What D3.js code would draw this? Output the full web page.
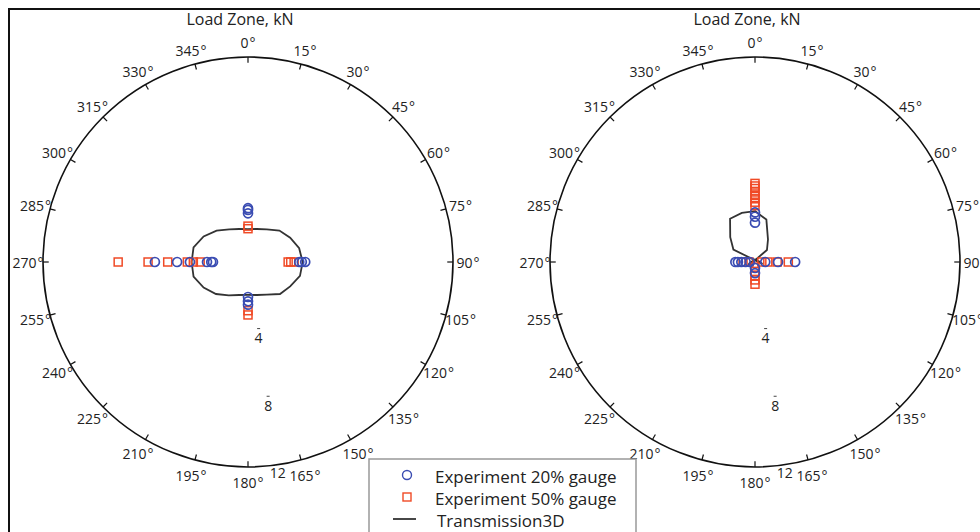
<!DOCTYPE html>
<html>
<head>
<meta charset="utf-8">
<script src="https://cdn.jsdelivr.net/npm/d3@7"></script>
<style>
  body { margin: 0; background: #fff; }
  svg { display: block; font-family: "Open Sans", "Liberation Sans", sans-serif; }
</style>
</head>
<body>
<div id="chart"></div>
<script>
// angular ticks (degrees, clockwise from top) and radial ticks (kN)
const angleTicks = [0, 15, 30, 45, 60, 75, 90, 105, 120, 135, 150, 165, 180, 195, 210, 225, 240, 255, 270, 285, 300, 315, 330, 345];
const radialTicks = [4, 8, 12];

// Transmission3D curve, radius in kN sampled at angleTicks
const leftCurve = [1.93, 2.0, 2.2, 2.6, 2.85, 3.1, 3.2, 3.15, 2.85, 2.65, 2.2, 2.0, 1.93, 2.0, 2.25, 2.65, 3.0, 3.3, 3.3, 3.3, 3.0, 2.6, 2.2, 2.0];
const rightCurve = [2.98, 2.57, 1.52, 0.99, -0.45, -0.35, -0.25, -0.15, -0.15, -0.15, -0.15, -0.15, -0.15, -0.15, -0.15, -0.15, -0.15, -0.2, -0.3, -0.45, 1.46, 2.05, 2.92, 2.98];

// experiment points: angle -> list of radii (kN)
const left20 = { 0: [3.15, 3.05, 2.85], 90: [3.0, 3.15, 3.35], 180: [2.05, 2.3, 2.5], 270: [5.45, 4.15, 3.4, 2.4, 2.15, 2.05] };
const left50 = { 0: [2.1, 1.95], 90: [2.35, 2.5, 2.7], 180: [2.85, 3.1], 270: [7.6, 5.85, 4.7, 3.55, 3.2, 2.8] };
const right20 = { 0: [2.9, 2.65, 2.3], 90: [0.6, 1.35, 2.35], 180: [0.35, 0.65], 270: [0.3, 0.55, 0.8, 1.0, 1.15] };
const right50 = { 0: [4.6, 4.45, 4.3, 4.1, 3.9, 3.7, 3.5, 3.3], 90: [0.4, 0.75, 1.3, 1.95], 180: [0.3, 0.55, 0.8, 1.05, 1.3], 270: [0.35, 0.7] };

const legendLabels = ["Experiment 20% gauge", "Experiment 50% gauge", "Transmission3D"];

const width = 980, height = 532;
const R = 205, cy = 262;
const blue = "#3a4cb2", red = "#f04a26";

const svg = d3.select("#chart").append("svg")
  .attr("width", width)
  .attr("height", height);

// frame
svg.append("path")
  .attr("d", `M9,${height} V9 H${width}`)
  .attr("fill", "none")
  .attr("stroke", "#111")
  .attr("stroke-width", 2);

const rScale = d3.scaleLinear().domain([0, 12]).range([0, R]);
const aScale = d3.scaleLinear().domain([0, 360]).range([0, 2 * Math.PI]);

const px = (a, r) => rScale(r) * Math.sin(aScale(a));
const py = (a, r) => -rScale(r) * Math.cos(aScale(a));

function toPoints(obj) {
  const pts = [];
  Object.keys(obj).forEach(k => obj[k].forEach(r => pts.push({ a: +k, r: r })));
  return pts;
}

function drawPolar(cx, curve, exp20, exp50) {
  const g = svg.append("g").attr("transform", `translate(${cx},${cy})`);

  // title
  g.append("text")
    .attr("x", -8).attr("y", -237)
    .attr("text-anchor", "middle")
    .attr("font-size", 16)
    .attr("fill", "#222")
    .text("Load Zone, kN");

  // outer circle
  g.append("circle")
    .attr("r", rScale(12))
    .attr("fill", "none")
    .attr("stroke", "#111")
    .attr("stroke-width", 1.6);

  // angular ticks
  g.selectAll(".tick")
    .data(angleTicks)
    .enter().append("line")
    .attr("x1", d => px(d, 12) * 0.972)
    .attr("y1", d => py(d, 12) * 0.972)
    .attr("x2", d => px(d, 12))
    .attr("y2", d => py(d, 12))
    .attr("stroke", "#111")
    .attr("stroke-width", 1.2);

  // angular labels
  const lbl = g.selectAll(".alabel")
    .data(angleTicks)
    .enter().append("text")
    .attr("x", d => 220 * Math.sin(aScale(d)))
    .attr("y", d => -220 * Math.cos(aScale(d)))
    .attr("text-anchor", "middle")
    .attr("dominant-baseline", "central")
    .attr("font-size", 14)
    .attr("fill", "#222");
  lbl.append("tspan").text(d => d);
  lbl.append("tspan").attr("dx", 1).text("°");

  // radial labels
  const ra = 172;
  radialTicks.forEach(v => {
    const x = (rScale(v) + 8) * Math.sin(aScale(ra));
    const y = -(rScale(v) + 8) * Math.cos(aScale(ra));
    g.append("text")
      .attr("x", x).attr("y", y)
      .attr("text-anchor", "middle")
      .attr("dominant-baseline", "central")
      .attr("font-size", 14)
      .attr("fill", "#222")
      .text(v);
    if (v < 12) {
      g.append("line")
        .attr("x1", x - 1.5).attr("x2", x + 1.5)
        .attr("y1", y - 9).attr("y2", y - 9)
        .attr("stroke", "#444").attr("stroke-width", 1);
    }
  });

  // Transmission3D curve
  const line = d3.lineRadial()
    .angle((d, i) => aScale(angleTicks[i]))
    .radius(d => rScale(d))
    .curve(d3.curveLinearClosed);

  g.append("path")
    .attr("d", line(curve))
    .attr("fill", "none")
    .attr("stroke", "#333")
    .attr("stroke-width", 1.8);

  // 50% gauge squares
  g.selectAll(".sq")
    .data(toPoints(exp50))
    .enter().append("rect")
    .attr("x", d => px(d.a, d.r) - 4)
    .attr("y", d => py(d.a, d.r) - 4)
    .attr("width", 8).attr("height", 8)
    .attr("fill", "none")
    .attr("stroke", red)
    .attr("stroke-width", 1.5);

  // 20% gauge circles
  g.selectAll(".ci")
    .data(toPoints(exp20))
    .enter().append("circle")
    .attr("cx", d => px(d.a, d.r))
    .attr("cy", d => py(d.a, d.r))
    .attr("r", 4.5)
    .attr("fill", "none")
    .attr("stroke", blue)
    .attr("stroke-width", 1.7);
}

drawPolar(248, leftCurve, left20, left50);
drawPolar(755, rightCurve, right20, right50);

// legend
const lg = svg.append("g");
lg.append("rect")
  .attr("x", 369).attr("y", 459)
  .attr("width", 267).attr("height", 90)
  .attr("fill", "#fff")
  .attr("stroke", "#999")
  .attr("stroke-width", 1.5);

const rowY = [475, 497, 519];
lg.append("circle")
  .attr("cx", 407).attr("cy", rowY[0]).attr("r", 4.5)
  .attr("fill", "none").attr("stroke", blue).attr("stroke-width", 1.4);
lg.append("rect")
  .attr("x", 403).attr("y", rowY[1] - 4).attr("width", 8).attr("height", 8)
  .attr("fill", "none").attr("stroke", red).attr("stroke-width", 1.4);
lg.append("line")
  .attr("x1", 393).attr("x2", 416).attr("y1", rowY[2]).attr("y2", rowY[2])
  .attr("stroke", "#333").attr("stroke-width", 1.8);

lg.selectAll(".ltext")
  .data(legendLabels)
  .enter().append("text")
  .attr("x", (d, i) => i < 2 ? 435 : 437)
  .attr("y", (d, i) => rowY[i] + 1)
  .attr("dominant-baseline", "central")
  .attr("font-size", 17)
  .attr("fill", "#222")
  .text(d => d);
</script>
</body>
</html>
